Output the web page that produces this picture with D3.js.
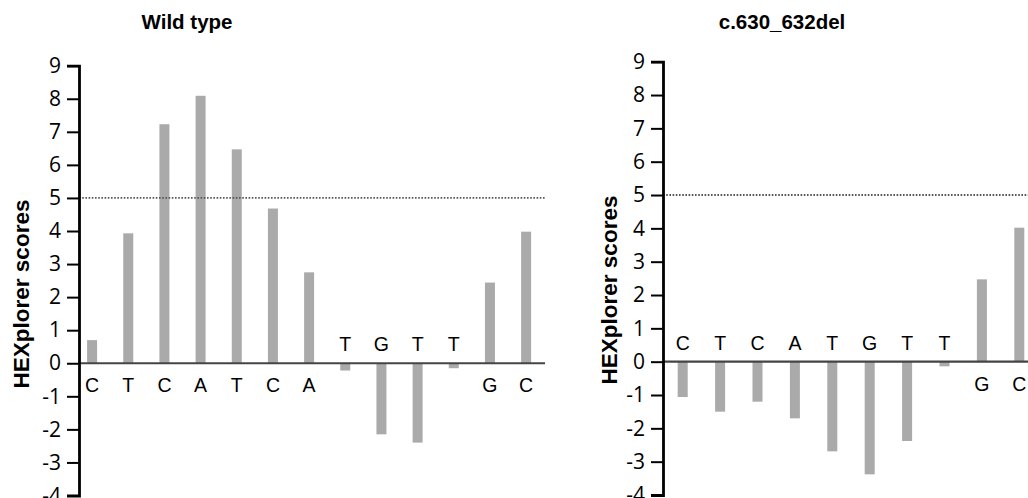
<!DOCTYPE html>
<html>
<head>
<meta charset="utf-8">
<script src="https://cdn.jsdelivr.net/npm/d3@7"></script>
<style>
  html, body { margin: 0; padding: 0; background: #fff; }
  svg { display: block; }
  .tick text { font-family: "Open Sans", "Noto Sans", sans-serif; }
</style>
</head>
<body>
<svg id="chart" width="1028" height="498"></svg>
<script>
// ---- Data ----
const wildBases = ["C","T","C","A","T","C","A","T","G","T","T","G","C"];
const wildScores = [0.70, 3.93, 7.23, 8.09, 6.47, 4.68, 2.75, -0.22, -2.15, -2.40, -0.15, 2.44, 3.98];
const mutBases = ["C","T","C","A","T","G","T","T","G","C"];
const mutScores = [-1.06, -1.50, -1.20, -1.70, -2.69, -3.38, -2.38, -0.14, 2.47, 4.02];
const yTicks = [-4,-3,-2,-1,0,1,2,3,4,5,6,7,8,9];
const threshold = 5;
const titles = ["Wild type", "c.630_632del"];
const yLabel = "HEXplorer scores";

const svg = d3.select("#chart");

function panel(cfg) {
  const g = svg.append("g");
  const y = d3.scaleLinear().domain([-4, 9]).range([cfg.yBottom, cfg.yTop]);
  const x = d3.scaleBand().domain(d3.range(cfg.bases.length)).range([cfg.bandStart, cfg.bandEnd]).padding(0);
  const barW = 10;

  // title
  g.append("text")
    .attr("x", cfg.titleX).attr("y", 29)
    .attr("text-anchor", "middle")
    .attr("font-family", "Liberation Sans, Arial, sans-serif")
    .attr("font-weight", "bold").attr("font-size", 20.5)
    .text(cfg.title);

  // y label
  g.append("text")
    .attr("transform", `translate(${cfg.labelX},${cfg.labelY}) rotate(-90)`)
    .attr("text-anchor", "middle")
    .attr("font-family", "Liberation Sans, Arial, sans-serif")
    .attr("font-weight", "bold").attr("font-size", 22.5)
    .text(yLabel);

  // bars
  g.selectAll("rect.bar").data(cfg.scores).enter().append("rect")
    .attr("class", "bar")
    .attr("x", (d, i) => x(i) + x.bandwidth() / 2 - barW / 2)
    .attr("width", barW)
    .attr("y", d => y(Math.max(0, d)))
    .attr("height", d => Math.abs(y(d) - y(0)))
    .attr("fill", "#aaaaaa");

  // dotted threshold
  g.append("line")
    .attr("x1", cfg.axisX).attr("x2", cfg.lineEnd)
    .attr("y1", y(threshold)).attr("y2", y(threshold))
    .attr("stroke", "#555").attr("stroke-width", 1.8)
    .attr("stroke-dasharray", "1.6,1.6");

  // zero line
  g.append("line")
    .attr("x1", cfg.axisX).attr("x2", cfg.lineEnd)
    .attr("y1", y(0)).attr("y2", y(0))
    .attr("stroke", "#444").attr("stroke-width", 2.2);

  // base letters
  g.selectAll("text.base").data(cfg.bases).enter().append("text")
    .attr("class", "base")
    .attr("x", (d, i) => x(i) + x.bandwidth() / 2)
    .attr("y", (d, i) => cfg.scores[i] >= 0 ? y(0) + 29 : y(0) - 12)
    .attr("text-anchor", "middle")
    .attr("font-family", "Liberation Sans, Arial, sans-serif")
    .attr("font-size", 19.5)
    .text(d => d);

  // axis
  const axis = d3.axisLeft(y).tickValues(yTicks).tickSize(12).tickPadding(6).tickFormat(d => String(d));
  const ag = g.append("g").attr("transform", `translate(${cfg.axisX},0)`).call(axis);
  ag.attr("font-family", null).attr("font-size", null);
  ag.select(".domain").attr("stroke", "#000").attr("stroke-width", 2.8);
  ag.selectAll(".tick line").attr("stroke", "#000").attr("stroke-width", 2);
  ag.selectAll(".tick text")
    .attr("font-size", 21).attr("fill", "#000");
}

panel({
  bases: wildBases, scores: wildScores, title: titles[0],
  titleX: 187, labelX: 29, labelY: 294,
  axisX: 79, yTop: 65.7, yBottom: 495.5,
  bandStart: 74, bandEnd: 544.2, lineEnd: 545
});
panel({
  bases: mutBases, scores: mutScores, title: titles[1],
  titleX: 782, labelX: 617, labelY: 290,
  axisX: 663, yTop: 61.7, yBottom: 495,
  bandStart: 664, bandEnd: 1038, lineEnd: 1030
});
</script>
</body>
</html>
